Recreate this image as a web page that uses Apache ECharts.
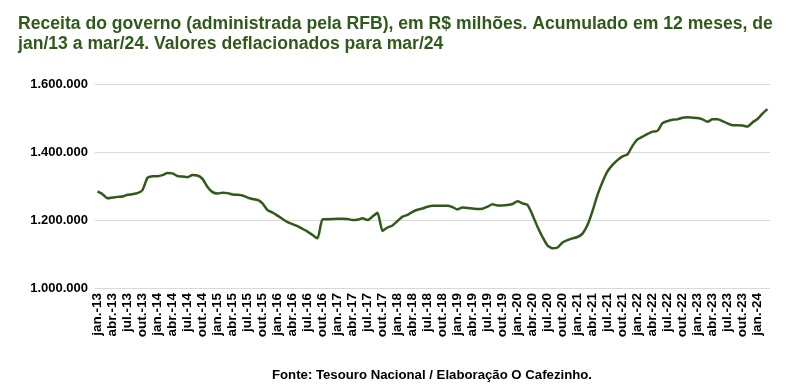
<!DOCTYPE html>
<html>
<head>
<meta charset="utf-8">
<script src="https://cdn.jsdelivr.net/npm/echarts@6/dist/echarts.min.js"></script>
<style>
html,body{margin:0;padding:0;background:#fff;}
#chart{width:792px;height:389px;}
</style>
</head>
<body>
<div id="chart"></div>
<script>
// Month names and years
const monthNames = ["jan","fev","mar","abr","mai","jun","jul","ago","set","out","nov","dez"];
const years = ["13","14","15","16","17","18","19","20","21","22","23","24"];
// Receita, R$ milhões (acumulado 12 meses), jan/13 .. mar/24
const values2013 = [1284000,1276000,1264000,1266000,1268000,1269000,1274000,1276000,1279000,1288000,1324000,1329000];
const values2014 = [1329000,1332000,1338000,1337000,1329000,1328000,1326000,1332000,1331000,1321000,1297000,1282000];
const values2015 = [1278000,1280000,1279000,1275000,1274000,1272000,1266000,1262000,1259000,1249000,1229000,1222000];
const values2016 = [1213000,1203000,1194000,1188000,1182000,1174000,1166000,1156000,1146000,1202000,1202000,1203000];
const values2017 = [1204000,1204000,1203000,1200000,1201000,1205000,1200000,1210000,1221000,1168000,1178000,1184000];
const values2018 = [1197000,1210000,1215000,1224000,1230000,1234000,1239000,1242000,1242000,1242000,1242000,1238000];
const values2019 = [1231000,1237000,1235000,1234000,1232000,1233000,1239000,1246000,1243000,1243000,1244000,1247000];
const values2020 = [1255000,1249000,1244000,1215000,1180000,1150000,1125000,1117000,1119000,1134000,1141000,1146000];
const values2021 = [1150000,1160000,1185000,1226000,1274000,1312000,1343000,1362000,1376000,1387000,1393000,1418000];
const values2022 = [1437000,1445000,1453000,1460000,1462000,1485000,1491000,1495000,1496000,1501000,1502000,1501000];
const values2023 = [1500000,1496000,1489000,1496000,1496000,1491000,1484000,1479000,1479000,1478000,1475000,1487000];
const values2024 = [1497000,1513000,1526000];
const yTicks = [1000000,1200000,1400000,1600000];

const values = [].concat(values2013,values2014,values2015,values2016,values2017,values2018,
  values2019,values2020,values2021,values2022,values2023,values2024);
const categories = [];
for (let i = 0; i < values.length; i++) {
  categories.push(monthNames[i % 12] + ".-" + years[Math.floor(i / 12)]);
}

function fmt(v){ return String(v).replace(/\B(?=(\d{3})+(?!\d))/g, "."); }

const chart = echarts.init(document.getElementById('chart'), null, {renderer:'canvas'});
chart.setOption({
  animation:false,
  backgroundColor:'#ffffff',
  title:[{
    text:'Receita do governo (administrada pela RFB), em R$ milhões. Acumulado em 12 meses, de\njan/13 a mar/24. Valores deflacionados para mar/24',
    left:18, top:14, padding:0,
    textStyle:{fontFamily:'Liberation Sans', fontWeight:'bold', fontSize:17.6, color:'#2f5a1a', lineHeight:20}
  },{
    text:'Fonte: Tesouro Nacional / Elaboração O Cafezinho.',
    left:272, top:369, padding:0,
    textStyle:{fontFamily:'Liberation Sans', fontWeight:'bold', fontSize:13.2, color:'#000'}
  }],
  grid:{left:95, right:22, top:84, bottom:101, containLabel:false},
  xAxis:{
    type:'category', data:categories, boundaryGap:true,
    axisLine:{show:false}, axisTick:{show:false},
    axisLabel:{interval:2, rotate:90, fontFamily:'Liberation Sans', fontWeight:'bold', fontSize:13.5, color:'#000', margin:5}
  },
  yAxis:{
    type:'value', min:1000000, max:1600000, interval:200000,
    axisLine:{show:false}, axisTick:{show:false},
    splitLine:{lineStyle:{color:'#d9d9d9', width:1}},
    axisLabel:{formatter:fmt, fontFamily:'Liberation Sans', fontWeight:'bold', fontSize:13, color:'#000', margin:7}
  },
  series:[{
    type:'line', data:values, showSymbol:false, smooth:0.2,
    lineStyle:{color:'#2f5a1a', width:2.5}
  }]
});
</script>
</body>
</html>
